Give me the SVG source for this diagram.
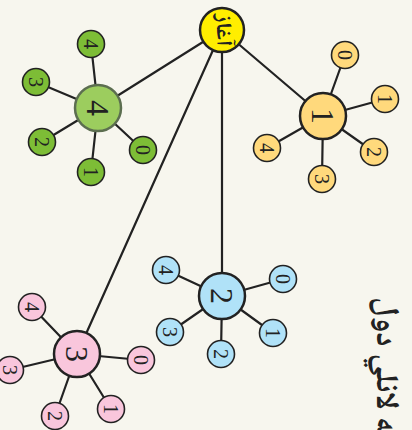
<svg xmlns="http://www.w3.org/2000/svg" width="412" height="430" viewBox="0 0 412 430">
<style>
.e{stroke:#222;stroke-width:2.2;fill:none;stroke-linecap:round}
.m{stroke:#222;stroke-width:2.5}
.c{stroke:#222;stroke-width:1.6}
.d{font-family:"Liberation Serif",serif;font-size:20px;text-anchor:middle;dominant-baseline:central;fill:#222}
.b{font-size:32px}
.y{fill:#ffd97c}
.g{fill:#7dbd36}
.bl{fill:#b0e2f8}
.p{fill:#f9c6dc}
.ar{font-family:"Noto Naskh Arabic","Noto Sans Arabic","DejaVu Sans",sans-serif;fill:#222;font-weight:bold}
</style>
<rect width="412" height="430" fill="#f7f6ee"/>
<g id="connectors">
<line class="e" x1="222" y1="30" x2="98" y2="108"/>
<line class="e" x1="222" y1="30" x2="323" y2="116"/>
<line class="e" x1="222" y1="30" x2="222" y2="296"/>
<line class="e" x1="222" y1="30" x2="77" y2="354"/>
<line class="e" x1="323" y1="116" x2="345" y2="55"/>
<line class="e" x1="323" y1="116" x2="385" y2="99"/>
<line class="e" x1="323" y1="116" x2="374" y2="152"/>
<line class="e" x1="323" y1="116" x2="322" y2="179"/>
<line class="e" x1="323" y1="116" x2="267" y2="148"/>
<line class="e" x1="98" y1="108" x2="91" y2="44"/>
<line class="e" x1="98" y1="108" x2="36" y2="82"/>
<line class="e" x1="98" y1="108" x2="42" y2="142"/>
<line class="e" x1="98" y1="108" x2="91" y2="172"/>
<line class="e" x1="98" y1="108" x2="143" y2="150"/>
<line class="e" x1="222" y1="296" x2="166" y2="270"/>
<line class="e" x1="222" y1="296" x2="283" y2="279"/>
<line class="e" x1="222" y1="296" x2="273" y2="333"/>
<line class="e" x1="222" y1="296" x2="221" y2="354"/>
<line class="e" x1="222" y1="296" x2="170" y2="332"/>
<line class="e" x1="77" y1="354" x2="32" y2="307"/>
<line class="e" x1="77" y1="354" x2="10" y2="370"/>
<line class="e" x1="77" y1="354" x2="55" y2="416"/>
<line class="e" x1="77" y1="354" x2="111" y2="409"/>
<line class="e" x1="77" y1="354" x2="141" y2="360"/>
</g>
<g id="root"><circle class="m" cx="222" cy="30" r="22" fill="#ffee00"/><text class="ar" font-size="22" text-anchor="middle" dominant-baseline="central" transform="translate(222,30) rotate(90)">آغاز</text></g>
<g id="n1"><circle class="m y" cx="323" cy="116" r="23"/><text class="d b" transform="translate(323,116) rotate(90)">1</text></g>
<g id="n1-0"><circle class="c y" cx="345" cy="55" r="13.5"/><text class="d" transform="translate(345,55) rotate(90)">0</text></g>
<g id="n1-1"><circle class="c y" cx="385" cy="99" r="13.5"/><text class="d" transform="translate(385,99) rotate(90)">1</text></g>
<g id="n1-2"><circle class="c y" cx="374" cy="152" r="13.5"/><text class="d" transform="translate(374,152) rotate(90)">2</text></g>
<g id="n1-3"><circle class="c y" cx="322" cy="179" r="13.5"/><text class="d" transform="translate(322,179) rotate(90)">3</text></g>
<g id="n1-4"><circle class="c y" cx="267" cy="148" r="13.5"/><text class="d" transform="translate(267,148) rotate(90)">4</text></g>
<g id="n4"><circle cx="98" cy="108" r="23" fill="#9ccd5e" stroke="#5c6e50" stroke-width="2.5"/><text class="d b" transform="translate(98,108) rotate(90)">4</text></g>
<g id="n4-0"><circle class="c g" cx="143" cy="150" r="13.5"/><text class="d" transform="translate(143,150) rotate(90)">0</text></g>
<g id="n4-1"><circle class="c g" cx="91" cy="172" r="13.5"/><text class="d" transform="translate(91,172) rotate(90)">1</text></g>
<g id="n4-2"><circle class="c g" cx="42" cy="142" r="13.5"/><text class="d" transform="translate(42,142) rotate(90)">2</text></g>
<g id="n4-3"><circle class="c g" cx="36" cy="82" r="13.5"/><text class="d" transform="translate(36,82) rotate(90)">3</text></g>
<g id="n4-4"><circle class="c g" cx="91" cy="44" r="13.5"/><text class="d" transform="translate(91,44) rotate(90)">4</text></g>
<g id="n2"><circle class="m bl" cx="222" cy="296" r="23"/><text class="d b" transform="translate(222,296) rotate(90)">2</text></g>
<g id="n2-0"><circle class="c bl" cx="283" cy="279" r="13.5"/><text class="d" transform="translate(283,279) rotate(90)">0</text></g>
<g id="n2-1"><circle class="c bl" cx="273" cy="333" r="13.5"/><text class="d" transform="translate(273,333) rotate(90)">1</text></g>
<g id="n2-2"><circle class="c bl" cx="221" cy="354" r="13.5"/><text class="d" transform="translate(221,354) rotate(90)">2</text></g>
<g id="n2-3"><circle class="c bl" cx="170" cy="332" r="13.5"/><text class="d" transform="translate(170,332) rotate(90)">3</text></g>
<g id="n2-4"><circle class="c bl" cx="166" cy="270" r="13.5"/><text class="d" transform="translate(166,270) rotate(90)">4</text></g>
<g id="n3"><circle class="m p" cx="77" cy="354" r="23"/><text class="d b" transform="translate(77,354) rotate(90)">3</text></g>
<g id="n3-0"><circle class="c p" cx="141" cy="360" r="13.5"/><text class="d" transform="translate(141,360) rotate(90)">0</text></g>
<g id="n3-1"><circle class="c p" cx="111" cy="409" r="13.5"/><text class="d" transform="translate(111,409) rotate(90)">1</text></g>
<g id="n3-2"><circle class="c p" cx="55" cy="416" r="13.5"/><text class="d" transform="translate(55,416) rotate(90)">2</text></g>
<g id="n3-3"><circle class="c p" cx="10" cy="370" r="13.5"/><text class="d" transform="translate(10,370) rotate(90)">3</text></g>
<g id="n3-4"><circle class="c p" cx="32" cy="307" r="13.5"/><text class="d" transform="translate(32,307) rotate(90)">4</text></g>
<text id="title" class="ar" font-size="32" transform="translate(377,297) rotate(90)">مرحله لانلي دول</text>
</svg>
